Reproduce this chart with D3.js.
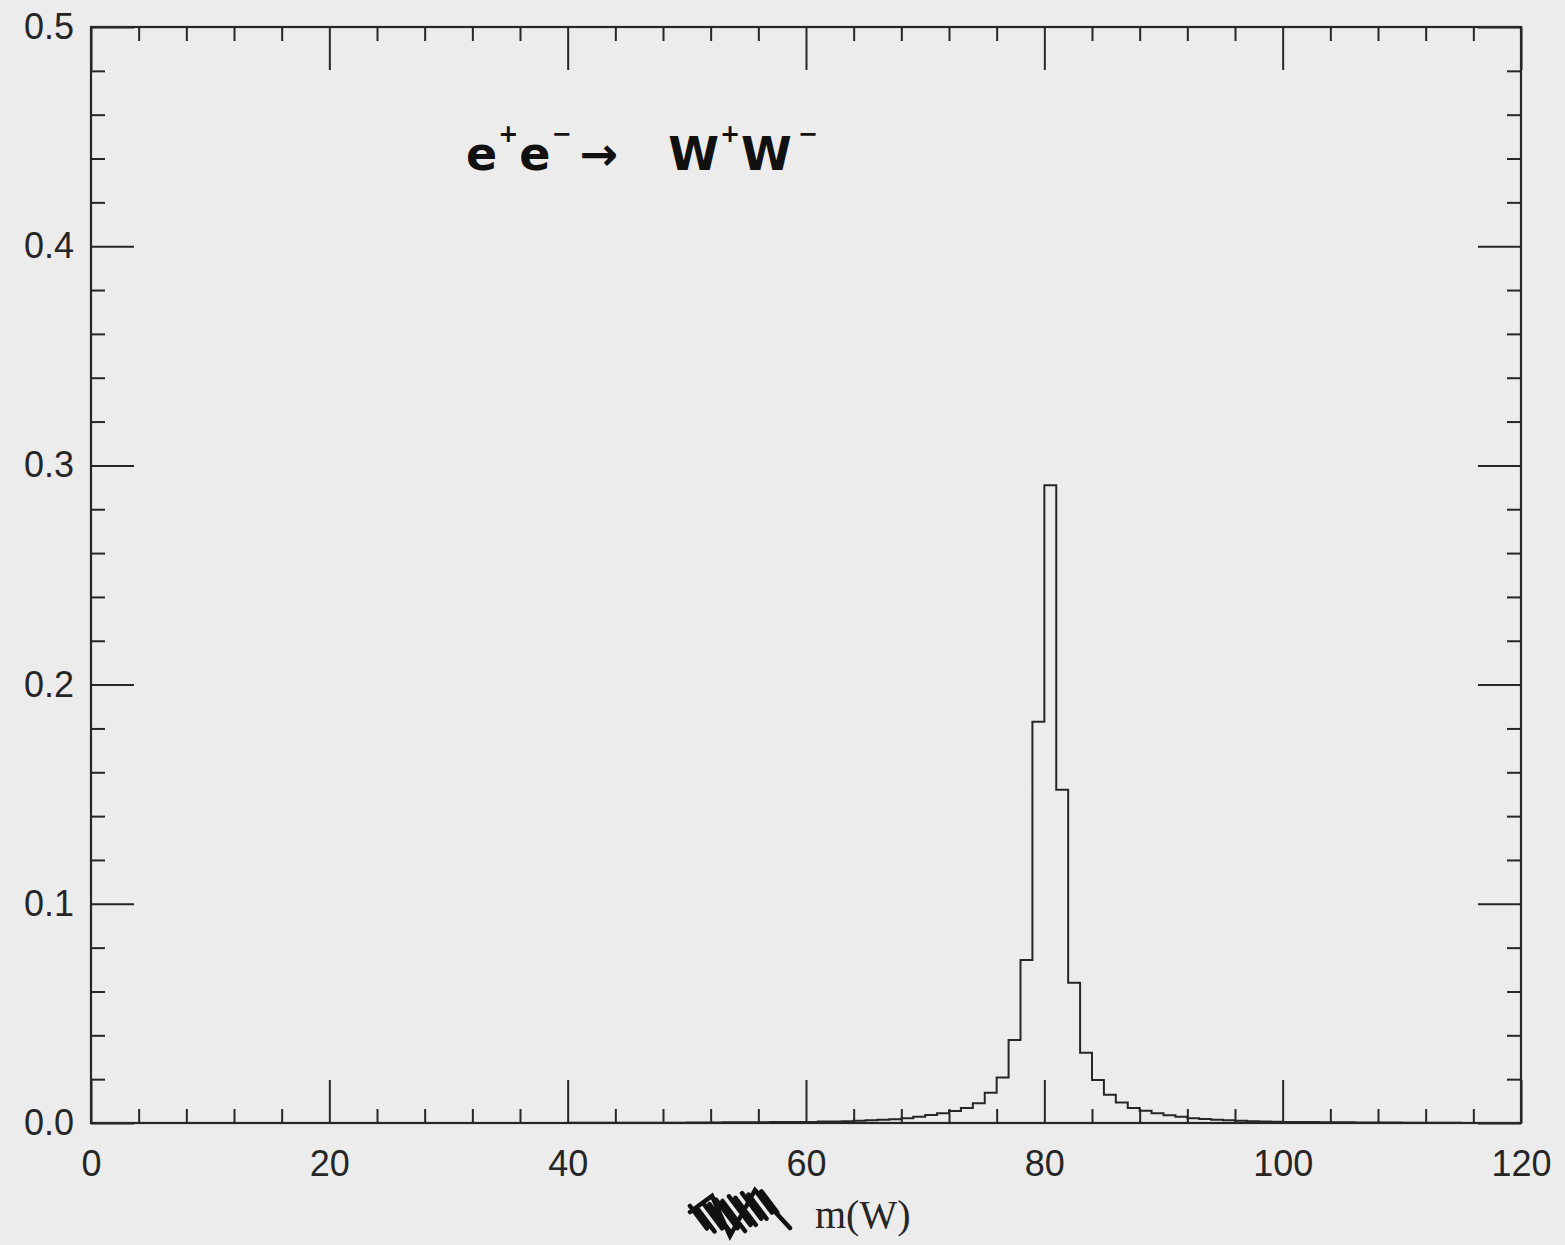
<!DOCTYPE html>
<html>
<head>
<meta charset="utf-8">
<script src="https://cdn.jsdelivr.net/npm/d3@7"></script>
<style>
  body { margin: 0; background: #ececec; }
  svg { display: block; }
</style>
</head>
<body>
<div id="chart"></div>
<script>
// histogram of m(W), 1 GeV bins starting at binStart
let binStart = 40;
let binValues = [
  0.0001, 0.0001, 0.0001, 0.0001, 0.0001, 0.0001, 0.0001, 0.0001, 0.0001, 0.0001, // 40-49
  0.0002, 0.0002, 0.0002, 0.0003, 0.0003, 0.0003, 0.0003, 0.0004, 0.0004, 0.0004, // 50-59
  0.0005, 0.0007, 0.0007, 0.0008, 0.0010, 0.0012, 0.0015, 0.0017, 0.0022, 0.0028, // 60-69
  0.0036, 0.0045, 0.0055, 0.0068, 0.0090, 0.0138, 0.0208, 0.0379, 0.0744, 0.1830, // 70-79
  0.2910, 0.1520, 0.0640, 0.0321, 0.0196, 0.0129, 0.0093, 0.0068, 0.0056, 0.0044, // 80-89
  0.0035, 0.0028, 0.0022, 0.0018, 0.0015, 0.0012, 0.0010, 0.0008, 0.0007, 0.0006, // 90-99
  0.0005, 0.0004, 0.0004, 0.0003, 0.0003, 0.0003, 0.0002, 0.0002, 0.0002, 0.0002, // 100-109
  0.0001, 0.0001, 0.0001, 0.0001, 0.0001                                          // 110-114
];

let xMajorTicks = [0, 20, 40, 60, 80, 100, 120];
let yMajorTicks = [0.0, 0.1, 0.2, 0.3, 0.4, 0.5];
let xMinorStep = 4;
let yMinorStep = 0.02;

let xLabel = "m(W)";

// pieces of the handwritten note: text, superscript?, gap before
let noteParts = [
    ["e", false, 0], ["+", true, 1], ["e", false, 1], ["\u2212", true, 1],
    ["\u2192", false, 8], ["W", false, 50], ["+", true, 1], ["W", false, 1], ["\u2212", true, 6]
];

let W = 1565, H = 1245;
let plotLeft = 91, plotRight = 1521, plotTop = 27, plotBottom = 1123;

let ink = "#262626";

let svg = d3.select("#chart").append("svg")
    .attr("width", W)
    .attr("height", H);

svg.append("rect")
    .attr("width", W).attr("height", H)
    .attr("fill", "#ececec");

let x = d3.scaleLinear().domain([0, 120]).range([plotLeft, plotRight]);
let y = d3.scaleLinear().domain([0, 0.5]).range([plotBottom, plotTop]);

let majorLen = 43, minorLen = 14;

let xMinor = d3.range(0, 120 + 0.001, xMinorStep).filter(v => v % 20 !== 0);
let yMinor = d3.range(0, 0.5 + 0.0001, yMinorStep)
    .map(v => +v.toFixed(2))
    .filter(v => Math.abs(v * 10 - Math.round(v * 10)) > 1e-6);

// axes: bottom/left carry labels, top/right mirror the ticks (all pointing inward)
function addAxis(axisFn, scale, ticks, len, pos, pad, fmt) {
    let a = axisFn(scale)
        .tickValues(ticks)
        .tickSize(-len)
        .tickPadding(pad || 0)
        .tickFormat(fmt || "");
    let g = svg.append("g")
        .attr("transform", pos)
        .call(a);
    g.select(".domain").remove();
    g.selectAll(".tick line").attr("stroke", ink).attr("stroke-width", 2);
    g.selectAll(".tick text")
        .attr("fill", ink)
        .attr("font-family", "Liberation Sans, Arial, sans-serif")
        .attr("font-size", 36);
    return g;
}

let fx = d3.format(".0f"), fy = d3.format(".1f");

addAxis(d3.axisBottom, x, xMajorTicks, majorLen, `translate(0,${plotBottom})`, 27, fx);
addAxis(d3.axisBottom, x, xMinor, minorLen, `translate(0,${plotBottom})`);
addAxis(d3.axisTop, x, xMajorTicks, majorLen, `translate(0,${plotTop})`);
addAxis(d3.axisTop, x, xMinor, minorLen, `translate(0,${plotTop})`);

addAxis(d3.axisLeft, y, yMajorTicks, majorLen, `translate(${plotLeft},0)`, 17, fy);
addAxis(d3.axisLeft, y, yMinor, minorLen, `translate(${plotLeft},0)`);
addAxis(d3.axisRight, y, yMajorTicks, majorLen, `translate(${plotRight},0)`);
addAxis(d3.axisRight, y, yMinor, minorLen, `translate(${plotRight},0)`);

// frame
svg.append("rect")
    .attr("x", plotLeft).attr("y", plotTop)
    .attr("width", plotRight - plotLeft).attr("height", plotBottom - plotTop)
    .attr("fill", "none")
    .attr("stroke", ink)
    .attr("stroke-width", 2.2);

// histogram outline
let pts = [[binStart, 0]];
binValues.forEach((v, i) => pts.push([binStart + i, v]));
pts.push([binStart + binValues.length, binValues[binValues.length - 1]]);
pts.push([binStart + binValues.length, 0]);

let line = d3.line()
    .x(d => x(d[0]))
    .y(d => y(d[1]))
    .curve(d3.curveStepAfter);

svg.append("path")
    .attr("d", line(pts))
    .attr("fill", "none")
    .attr("stroke", ink)
    .attr("stroke-width", 2);

// handwritten process label, pieces laid out one after another
let noteG = svg.append("g")
    .attr("font-family", "DejaVu Sans, sans-serif")
    .attr("font-weight", "bold")
    .attr("fill", "#111");
let cx = 466;
noteParts.forEach(([t, sup, gap]) => {
    cx += gap;
    let el = noteG.append("text")
        .attr("x", cx)
        .attr("y", sup ? 142 : 170)
        .attr("font-size", sup ? 24 : 46)
        .text(t);
    cx += el.node().getComputedTextLength();
});

// scribbled-out word before the axis title
let scrib = d3.path();
for (let i = 0; i < 12; i++) {
    let sx = 690 + i * 6.5;
    let sy = 1206 - i * 1.6 + (i % 2) * 3;
    let len = 30 - Math.abs(i - 5) * 1.5;
    scrib.moveTo(sx, sy);
    scrib.lineTo(sx + len * 0.75, sy + len);
}
scrib.moveTo(690, 1212);
scrib.lineTo(712, 1196);
scrib.lineTo(730, 1236);
scrib.lineTo(755, 1190);
scrib.lineTo(790, 1228);
svg.append("path")
    .attr("d", scrib.toString())
    .attr("fill", "none")
    .attr("stroke", "#111")
    .attr("stroke-width", 4.5)
    .attr("stroke-linecap", "round");

svg.append("text")
    .attr("x", 815)
    .attr("y", 1228)
    .attr("font-family", "Liberation Serif, Times New Roman, serif")
    .attr("font-size", 40)
    .attr("fill", ink)
    .text(xLabel);
</script>
</body>
</html>
